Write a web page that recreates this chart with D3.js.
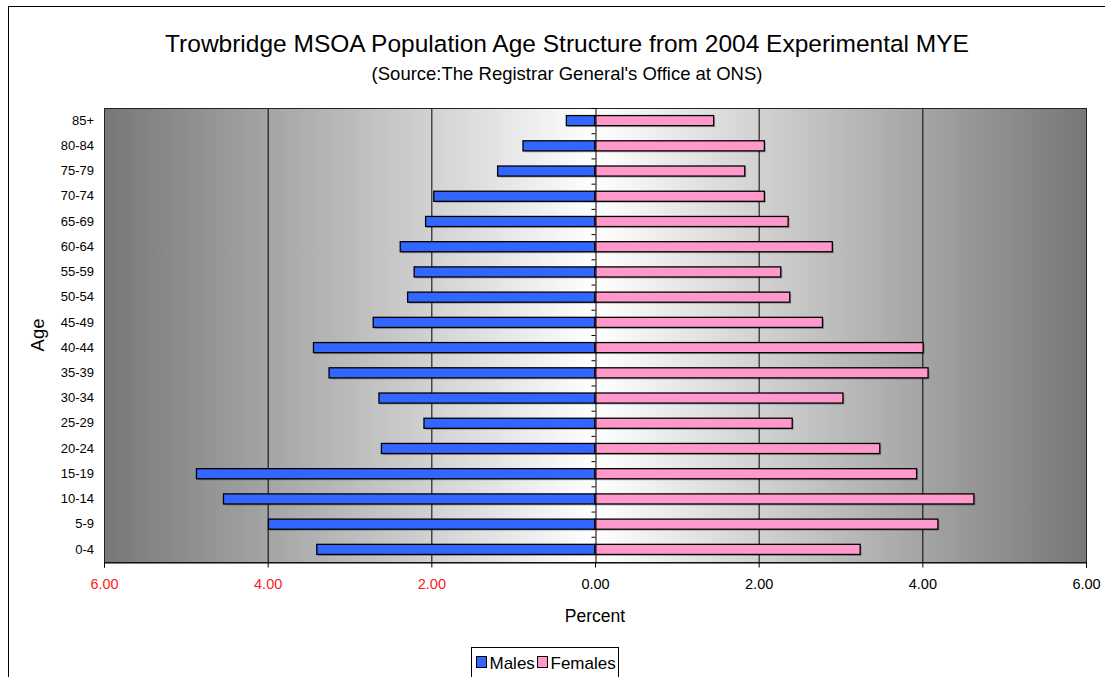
<!DOCTYPE html>
<html>
<head>
<meta charset="utf-8">
<script src="https://cdn.jsdelivr.net/npm/d3@7"></script>
<style>
	body { margin: 0; background: #fff; }
	svg { display: block; font-family: "Liberation Sans", Arial, sans-serif; }
</style>
</head>
<body>
<svg width="1105" height="677"></svg>
<script>
// age groups, bottom to top as in the chart
const ageGroups = ['0-4', '5-9', '10-14', '15-19', '20-24', '25-29', '30-34', '35-39', '40-44',
	'45-49', '50-54', '55-59', '60-64', '65-69', '70-74', '75-79', '80-84', '85+'];
// percent of population
const males = [3.40, 3.99, 4.54, 4.87, 2.61, 2.09, 2.64, 3.25, 3.44,
	2.71, 2.29, 2.21, 2.38, 2.07, 1.97, 1.19, 0.88, 0.35];
const females = [3.24, 4.19, 4.63, 3.93, 3.48, 2.41, 3.03, 4.07, 4.01,
	2.78, 2.38, 2.27, 2.90, 2.36, 2.07, 1.83, 2.07, 1.45];
const xTicks = [-6, -4, -2, 0, 2, 4, 6];
const gridTicks = [-4, -2, 2, 4];

const svg = d3.select('svg');
const plot = { left: 104, top: 108, right: 1086, bottom: 562 };

const x = d3.scaleLinear()
	.domain([-6, 6])
	.range([plot.left, plot.right]);
const y = d3.scaleBand()
	.domain(ageGroups.slice().reverse())
	.range([plot.top, plot.bottom])
	.paddingInner(0.6)
	.paddingOuter(0.3);
const yEdge = d3.scaleLinear()
	.domain([0, ageGroups.length])
	.range([plot.bottom, plot.top]);

// outer chart border (runs off the right and bottom)
svg.append('rect')
	.attr('x', 8.5).attr('y', 6.5)
	.attr('width', 1120).attr('height', 700)
	.attr('fill', 'none')
	.attr('stroke', '#000');

// titles
svg.append('text')
	.attr('x', 567).attr('y', 52)
	.attr('text-anchor', 'middle')
	.attr('font-size', 24.5)
	.text('Trowbridge MSOA Population Age Structure from 2004 Experimental MYE');
svg.append('text')
	.attr('x', 567).attr('y', 80)
	.attr('text-anchor', 'middle')
	.attr('font-size', 18.5)
	.text("(Source:The Registrar General's Office at ONS)");

// background gradient
const grad = svg.append('defs').append('linearGradient')
	.attr('id', 'bg')
	.attr('x1', '0%').attr('x2', '100%')
	.attr('y1', '0%').attr('y2', '0%');
grad.append('stop').attr('offset', '0%').attr('stop-color', '#777');
grad.append('stop').attr('offset', '50%').attr('stop-color', '#fff');
grad.append('stop').attr('offset', '100%').attr('stop-color', '#777');

svg.append('rect')
	.attr('x', plot.left).attr('y', plot.top)
	.attr('width', plot.right - plot.left)
	.attr('height', plot.bottom - plot.top)
	.attr('fill', 'url(#bg)');

// gridlines
svg.append('g')
	.selectAll('line')
	.data(gridTicks)
	.enter()
	.append('line')
	.attr('x1', d => x(d) + 0.5).attr('x2', d => x(d) + 0.5)
	.attr('y1', plot.top).attr('y2', plot.bottom)
	.attr('stroke', '#000')
	.attr('stroke-width', 1);

svg.append('rect')
	.attr('x', plot.left + 0.5).attr('y', plot.top + 0.5)
	.attr('width', plot.right - plot.left)
	.attr('height', plot.bottom - plot.top)
	.attr('fill', 'none')
	.attr('stroke', '#222');

// bars
function drawBars(values, sign, fill) {
	const g = svg.append('g');
	g.selectAll('rect.shadow')
		.data(values)
		.enter()
		.append('rect')
		.attr('class', 'shadow')
		.attr('x', d => Math.min(x(0), x(sign * d)) + 1.5)
		.attr('y', (d, i) => y(ageGroups[i]) + 1.5)
		.attr('width', d => Math.abs(x(sign * d) - x(0)))
		.attr('height', y.bandwidth())
		.attr('fill', 'rgba(0,0,0,0.25)');
	g.selectAll('rect.bar')
		.data(values)
		.enter()
		.append('rect')
		.attr('class', 'bar')
		.attr('x', d => Math.min(x(0), x(sign * d)))
		.attr('y', (d, i) => y(ageGroups[i]))
		.attr('width', d => Math.abs(x(sign * d) - x(0)))
		.attr('height', y.bandwidth())
		.attr('fill', fill)
		.attr('stroke', '#000')
		.attr('stroke-width', 1.3);
}
drawBars(males, -1, '#3366ff');
drawBars(females, 1, '#ff99cc');

// zero axis with ticks between categories
const zeroAxis = d3.axisLeft(yEdge)
	.tickValues(d3.range(0, ageGroups.length + 1))
	.tickSize(4)
	.tickFormat('');
svg.append('g')
	.attr('transform', `translate(${x(0) + 0.5},0)`)
	.call(zeroAxis)
	.call(g => g.select('.domain').attr('stroke', '#000'));

// category labels
const catAxis = d3.axisLeft(y).tickSize(0).tickPadding(10);
svg.append('g')
	.attr('transform', `translate(${plot.left},0)`)
	.call(catAxis)
	.call(g => g.select('.domain').remove())
	.call(g => g.selectAll('text')
		.attr('font-size', 13)
		.attr('font-family', '"Liberation Sans", Arial, sans-serif')
		.attr('fill', '#000'));

// percent axis
const xAxis = d3.axisBottom(x)
	.tickValues(xTicks)
	.tickSize(5)
	.tickPadding(11)
	.tickFormat(d => Math.abs(d).toFixed(2));
svg.append('g')
	.attr('transform', `translate(0,${plot.bottom + 0.5})`)
	.call(xAxis)
	.call(g => g.select('.domain').attr('stroke', '#000'))
	.call(g => g.selectAll('text')
		.attr('font-size', 14.5)
		.attr('font-family', '"Liberation Sans", Arial, sans-serif')
		.attr('fill', d => d < 0 ? '#ff2020' : '#000'));

svg.append('text')
	.attr('x', x(0)).attr('y', 622)
	.attr('text-anchor', 'middle')
	.attr('font-size', 17.5)
	.text('Percent');

svg.append('text')
	.attr('transform', `translate(44,${(plot.top + plot.bottom) / 2}) rotate(-90)`)
	.attr('text-anchor', 'middle')
	.attr('font-size', 18.5)
	.text('Age');

// legend
const legendItems = [
	{ label: 'Males', fill: '#3366ff' },
	{ label: 'Females', fill: '#ff99cc' }
];
const legend = svg.append('g').attr('transform', 'translate(471.5,647.5)');
legend.append('rect')
	.attr('width', 147).attr('height', 40)
	.attr('fill', '#fff')
	.attr('stroke', '#000');
const item = legend.selectAll('g.item')
	.data(legendItems)
	.enter()
	.append('g')
	.attr('class', 'item')
	.attr('transform', (d, i) => `translate(${i === 0 ? 5 : 66},0)`);
item.append('rect')
	.attr('x', 0).attr('y', 9)
	.attr('width', 10).attr('height', 11)
	.attr('fill', d => d.fill)
	.attr('stroke', '#000');
item.append('text')
	.attr('x', 13).attr('y', 21)
	.attr('font-size', 17)
	.text(d => d.label);
</script>
</body>
</html>
